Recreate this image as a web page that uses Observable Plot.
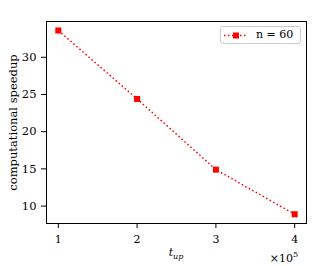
<!DOCTYPE html>
<html>
<head>
<meta charset="utf-8">
<script src="https://cdn.jsdelivr.net/npm/d3@7"></script>
<script src="https://cdn.jsdelivr.net/npm/@observablehq/plot@0.6"></script>
<style>
  html, body { margin: 0; padding: 0; background: #fff; }
  #wrap { position: relative; width: 332px; height: 266px; }
  #legend { position: absolute; left: 220px; top: 26px; width: 79px; height: 16px;
    border: 1px solid #cccccc; border-radius: 3px; background: rgba(255,255,255,0.8);
    font-family: 'DejaVu Serif', serif; font-size: 11px; box-sizing: content-box; }
  #legend svg { position: absolute; left: 0; top: 0; }
  #legend span { position: absolute; left: 35px; top: 0px; line-height: 16px; white-space: pre; }
</style>
</head>
<body>
<div id="wrap"></div>
<script>
const tUp = [1, 2, 3, 4];
const speedup = [33.6, 24.4, 14.9, 8.9];
const xTicks = [1, 2, 3, 4];
const yTicks = [10, 15, 20, 25, 30];
const seriesLabel = "n = 60";
const yLabel = "computational speedup";

const data = tUp.map((t, i) => ({t, s: speedup[i]}));
const font = "'DejaVu Serif', serif";

const plot = Plot.plot({
  width: 332,
  height: 266,
  marginLeft: 46,
  marginRight: 26,
  marginTop: 21,
  marginBottom: 43,
  style: {fontFamily: font, fontSize: "11px", background: "white", color: "black"},
  x: {domain: [0.85, 4.15]},
  y: {domain: [7.66, 34.81]},
  marks: [
    Plot.axisX({ticks: xTicks, tickSize: 5, tickPadding: 7, tickFormat: d => String(d), label: null, fontSize: 11, stroke: "black"}),
    Plot.axisY({ticks: yTicks, tickSize: 5, tickPadding: 5, tickFormat: d => String(d), label: yLabel, labelAnchor: "center", labelArrow: "none", labelOffset: 38, fontSize: 11.5, stroke: "black"}),
    Plot.line(data, {x: "t", y: "s", stroke: "red", strokeWidth: 1.5, strokeDasharray: "1.5,2.5", strokeLinecap: "butt"}),
    Plot.dot(data, {x: "t", y: "s", symbol: "square", r: 3.4, fill: "red", stroke: "none"}),
    Plot.frame({stroke: "black", strokeWidth: 1})
  ]
});

const wrap = document.getElementById("wrap");
wrap.appendChild(plot);

const svg = d3.select(plot);
const xs = plot.scale("x");
const ys = plot.scale("y");
const xMid = (xs.range[0] + xs.range[1]) / 2;
const xRight = xs.range[1];
const yBottom = ys.range[0];

const xl = svg.append("text")
  .attr("x", xMid).attr("y", yBottom + 33)
  .attr("text-anchor", "middle")
  .style("font-family", font).style("font-size", "11px").style("font-style", "italic");
xl.append("tspan").text("t");
xl.append("tspan").attr("dy", 3).style("font-size", "8px").text("up");

const off = svg.append("text")
  .attr("x", xRight - 8).attr("y", yBottom + 39)
  .attr("text-anchor", "end")
  .style("font-family", font).style("font-size", "11px");
off.append("tspan").text("×10");
off.append("tspan").attr("dy", -5).style("font-size", "8px").text("5");

// legend
const leg = document.createElement("div");
leg.id = "legend";
leg.innerHTML = `<svg width="34" height="16"><line x1="3" y1="8.5" x2="27" y2="8.5" stroke="red" stroke-width="1.5" stroke-dasharray="1.5,2.5"/><rect x="12" y="5.5" width="6" height="6" fill="red"/></svg><span>${seriesLabel}</span>`;
wrap.appendChild(leg);
</script>
</body>
</html>
